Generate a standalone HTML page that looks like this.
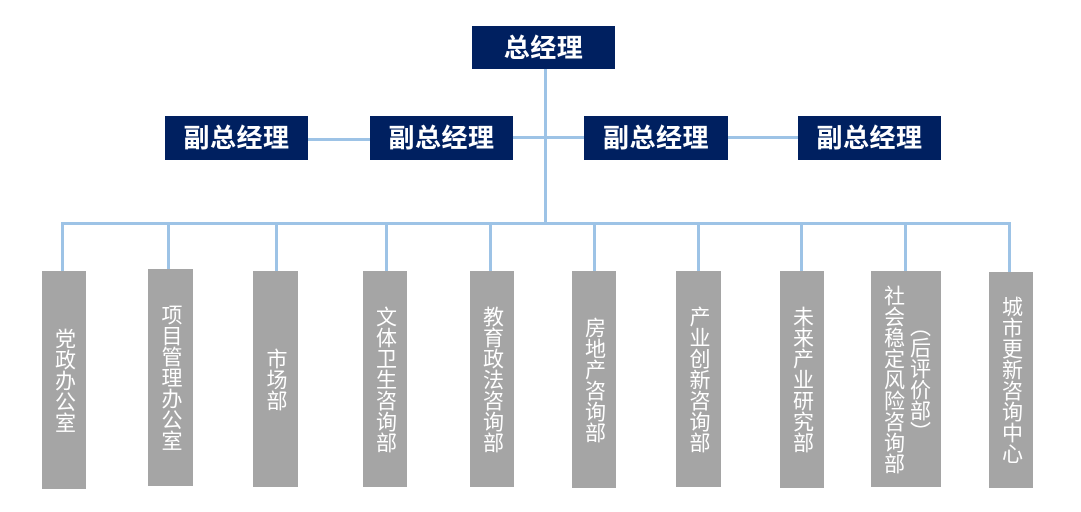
<!DOCTYPE html>
<html>
<head>
<meta charset="utf-8">
<style>
  html, body { margin:0; padding:0; }
  body { width:1081px; height:512px; position:relative; background:#ffffff; overflow:hidden;
         font-family:"Liberation Sans","Noto Sans CJK SC",sans-serif; }
  .ln { position:absolute; background:#9dc3e6; }
  .nb { position:absolute; background:#002060; color:#ffffff; font-weight:bold; font-size:26px;
        display:flex; align-items:center; justify-content:center; line-height:1; letter-spacing:0.5px; }
  .gb { position:absolute; background:#a5a5a5; color:#ffffff; font-size:21px;
        display:flex; align-items:center; justify-content:center; }
  .v { writing-mode:vertical-rl; line-height:21px; white-space:nowrap; }
</style>
</head>
<body>
  <!-- connectors -->
  <div class="ln" style="left:544px;top:68px;width:3px;height:157px;"></div>
  <div class="ln" style="left:61px;top:222px;width:950px;height:3px;"></div>
  <div class="ln" style="left:307px;top:138px;width:64px;height:3px;"></div>
  <div class="ln" style="left:512px;top:136px;width:73px;height:3px;"></div>
  <div class="ln" style="left:727px;top:136px;width:72px;height:3px;"></div>

  <div class="ln" style="left:61px;top:222px;width:3px;height:50px;"></div>
  <div class="ln" style="left:167px;top:222px;width:3px;height:48px;"></div>
  <div class="ln" style="left:275px;top:222px;width:3px;height:50px;"></div>
  <div class="ln" style="left:385px;top:222px;width:3px;height:50px;"></div>
  <div class="ln" style="left:489px;top:222px;width:3px;height:50px;"></div>
  <div class="ln" style="left:593px;top:222px;width:3px;height:50px;"></div>
  <div class="ln" style="left:697px;top:222px;width:3px;height:50px;"></div>
  <div class="ln" style="left:800px;top:222px;width:3px;height:50px;"></div>
  <div class="ln" style="left:904px;top:222px;width:3px;height:50px;"></div>
  <div class="ln" style="left:1008px;top:222px;width:3px;height:51px;"></div>

  <!-- top -->
  <div class="nb" style="left:472px;top:26px;width:143px;height:43px;">总经理</div>

  <!-- VPs -->
  <div class="nb" style="left:165px;top:116px;width:143px;height:44px;">副总经理</div>
  <div class="nb" style="left:370px;top:116px;width:143px;height:44px;">副总经理</div>
  <div class="nb" style="left:584px;top:116px;width:144px;height:44px;">副总经理</div>
  <div class="nb" style="left:798px;top:116px;width:143px;height:44px;">副总经理</div>

  <!-- departments -->
  <div class="gb" style="left:42px;top:271px;width:44px;height:218px;"><span class="v">党政办公室</span></div>
  <div class="gb" style="left:148px;top:269px;width:45px;height:217px;"><span class="v">项目管理办公室</span></div>
  <div class="gb" style="left:253px;top:271px;width:45px;height:216px;"><span class="v">市场部</span></div>
  <div class="gb" style="left:363px;top:271px;width:44px;height:216px;"><span class="v">文体卫生咨询部</span></div>
  <div class="gb" style="left:470px;top:271px;width:44px;height:216px;"><span class="v">教育政法咨询部</span></div>
  <div class="gb" style="left:572px;top:271px;width:44px;height:217px;"><span class="v">房地产咨询部</span></div>
  <div class="gb" style="left:676px;top:271px;width:45px;height:216px;"><span class="v">产业创新咨询部</span></div>
  <div class="gb" style="left:780px;top:271px;width:44px;height:217px;"><span class="v">未来产业研究部</span></div>
  <div class="gb" style="left:871px;top:271px;width:70px;height:216px;gap:5px;">
    <span class="v">社会稳定风险咨询部</span><span class="v">（后评价部）</span>
  </div>
  <div class="gb" style="left:989px;top:272px;width:44px;height:216px;"><span class="v">城市更新咨询中心</span></div>
</body>
</html>
